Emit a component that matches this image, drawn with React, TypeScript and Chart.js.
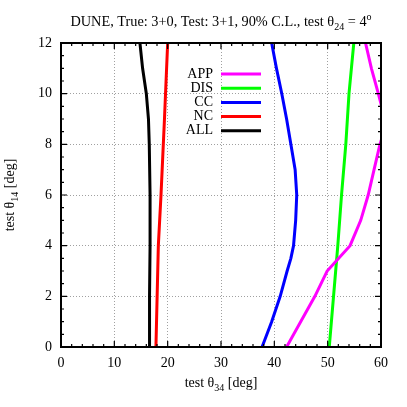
import React, { useEffect, useRef } from "react";
import { Chart, registerables } from "chart.js";

Chart.register(...registerables);

const seriesNames = ["APP", "DIS", "CC", "NC", "ALL"];
const seriesColors = ["#ff00ff", "#00ff00", "#0000ff", "#ff0000", "#000000"];

const appX = [42.3, 47.6, 49.9, 54.2, 56.2, 57.6, 58.7, 59.8, 61.0, 59.5, 58.2, 57.1];
const appY = [0, 2, 3, 4, 5, 6, 7, 8, 8.8, 10, 11, 12];
const disX = [50.3, 51.1, 51.9, 52.6, 53.4, 54.0, 54.9];
const disY = [0, 2, 4, 6, 8, 10, 12];
const ccX = [37.7, 39.5, 41.1, 42.4, 43.1, 43.6, 44.0, 44.2, 43.9, 43.1, 42.3, 41.4, 40.4, 39.5];
const ccY = [0, 1, 2, 3, 3.5, 4, 5, 6, 7, 8, 9, 10, 11, 12];
const ncX = [17.8, 18.25, 18.75, 19.4, 20.0];
const ncY = [0, 4, 6, 9, 12];
const allX = [16.5, 16.6, 16.7, 16.7, 16.7, 16.55, 16.4, 16.0, 15.3, 14.8];
const allY = [0, 2, 4, 5, 6, 8, 9, 10, 11, 12];

const xTicks = [0, 10, 20, 30, 40, 50, 60];
const yTicks = [0, 2, 4, 6, 8, 10, 12];

const FONT = "'Liberation Serif', 'Times New Roman', serif";

function pts(xs: number[], ys: number[]) {
  return xs.map((x, i) => ({ x, y: ys[i] }));
}

export default function App() {
  const ref = useRef<HTMLCanvasElement | null>(null);
  useEffect(() => {
    if (!ref.current) return;
    const data = [pts(appX, appY), pts(disX, disY), pts(ccX, ccY), pts(ncX, ncY), pts(allX, allY)];

    const decor = {
      id: "decor",
      afterDatasetsDraw(chart: any) {
        const ctx = chart.ctx;
        const a = chart.chartArea;
        const xs = chart.scales.x;
        const ys = chart.scales.y;
        ctx.save();
        // frame
        ctx.strokeStyle = "#000";
        ctx.lineWidth = 2;
        ctx.strokeRect(a.left, a.top, a.right - a.left, a.bottom - a.top);
        // ticks
        ctx.lineWidth = 1.2;
        ctx.beginPath();
        for (let v = 0; v <= 60; v += 2) {
          const px = xs.getPixelForValue(v);
          const len = v % 10 === 0 ? 6 : 3;
          ctx.moveTo(px, a.bottom);
          ctx.lineTo(px, a.bottom - len);
          ctx.moveTo(px, a.top);
          ctx.lineTo(px, a.top + len);
        }
        for (let v = 0; v <= 12; v += 0.5) {
          const py = ys.getPixelForValue(v);
          const len = v % 2 === 0 ? 6 : 3;
          ctx.moveTo(a.left, py);
          ctx.lineTo(a.left + len, py);
          ctx.moveTo(a.right, py);
          ctx.lineTo(a.right - len, py);
        }
        ctx.stroke();

        // legend
        ctx.font = `14px ${FONT}`;
        ctx.textAlign = "right";
        ctx.textBaseline = "middle";
        ctx.fillStyle = "#000";
        seriesNames.forEach((n, i) => {
          const y = 74 + i * 14.2;
          ctx.fillText(n, 213, y);
          ctx.strokeStyle = seriesColors[i];
          ctx.lineWidth = 3;
          ctx.beginPath();
          ctx.moveTo(221, y);
          ctx.lineTo(261, y);
          ctx.stroke();
        });

        // title with sub/superscripts
        const drawRich = (parts: [string, number][], cx: number, cy: number, size: number) => {
          const big = `${size}px ${FONT}`;
          const small = `${Math.round(size * 0.72)}px ${FONT}`;
          let total = 0;
          parts.forEach(([t, k]) => {
            ctx.font = k === 0 ? big : small;
            total += ctx.measureText(t).width;
          });
          let x = cx - total / 2;
          ctx.textAlign = "left";
          ctx.textBaseline = "alphabetic";
          parts.forEach(([t, k]) => {
            ctx.font = k === 0 ? big : small;
            const dy = k === 1 ? 4 : k === 2 ? -6 : 0;
            ctx.fillText(t, x, cy + dy);
            x += ctx.measureText(t).width;
          });
        };
        const cx = (a.left + a.right) / 2;
        drawRich(
          [
            ["DUNE, True: 3+0, Test: 3+1, 90% C.L., test θ", 0],
            ["24", 1],
            [" = 4", 0],
            ["o", 2],
          ],
          cx,
          26,
          14.3
        );
        drawRich(
          [
            ["test θ", 0],
            ["34", 1],
            [" [deg]", 0],
          ],
          cx,
          387,
          14
        );
        ctx.save();
        ctx.translate(14, (a.top + a.bottom) / 2);
        ctx.rotate(-Math.PI / 2);
        drawRich(
          [
            ["test θ", 0],
            ["14", 1],
            [" [deg]", 0],
          ],
          0,
          0,
          14
        );
        ctx.restore();
        ctx.restore();
      },
    };

    const chart = new Chart(ref.current, {
      type: "line",
      data: {
        datasets: data.map((d, i) => ({
          label: seriesNames[i],
          data: d,
          borderColor: seriesColors[i],
          backgroundColor: seriesColors[i],
          borderWidth: 3,
          pointRadius: 0,
          tension: 0,
          fill: false,
          clip: 0,
        })),
      },
      options: {
        animation: false,
        responsive: false,
        layout: { padding: { top: 43, right: 26, left: 0, bottom: 0 } },
        plugins: { legend: { display: false }, tooltip: { enabled: false } },
        scales: {
          x: {
            type: "linear",
            min: 0,
            max: 60,
            afterBuildTicks: (s: any) => {
              s.ticks = xTicks.map((v) => ({ value: v }));
            },
            afterFit: (s: any) => {
              s.height = 60;
            },
            ticks: { color: "#000", font: { family: FONT, size: 14 }, padding: 8, maxRotation: 0 },
            grid: { color: "#a0a0a0", lineWidth: 1, drawTicks: false },
            border: { display: false, dash: [1, 2] },
          },
          y: {
            type: "linear",
            min: 0,
            max: 12,
            afterBuildTicks: (s: any) => {
              s.ticks = yTicks.map((v) => ({ value: v }));
            },
            afterFit: (s: any) => {
              s.width = 61;
            },
            ticks: { color: "#000", font: { family: FONT, size: 14 }, padding: 9 },
            grid: { color: "#a0a0a0", lineWidth: 1, drawTicks: false },
            border: { display: false, dash: [1, 2] },
          },
        },
      },
      plugins: [decor],
    } as any);
    return () => chart.destroy();
  }, []);
  return (
    <canvas
      ref={ref}
      width={407}
      height={407}
      style={{ position: "absolute", left: 0, top: 0, width: 407, height: 407, background: "#fff" }}
    />
  );
}
